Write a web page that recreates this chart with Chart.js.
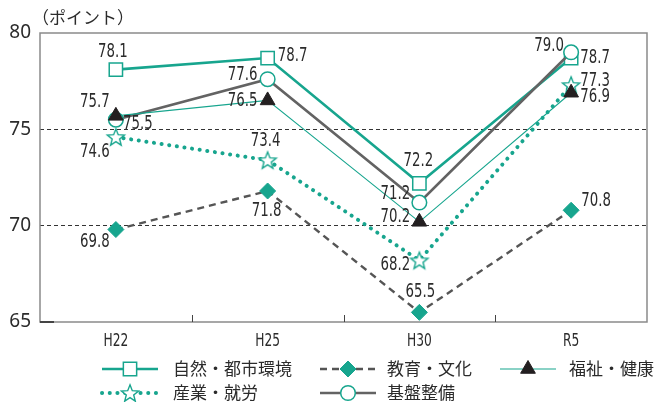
<!DOCTYPE html>
<html>
<head>
<meta charset="utf-8">
<script src="https://cdn.jsdelivr.net/npm/chart.js@4/dist/chart.umd.min.js"></script>
<style>
  body { margin: 0; background: #fff; }
  #wrap { width: 660px; height: 402px; position: relative; }
</style>
</head>
<body>
<div id="wrap"><canvas id="chart"></canvas></div>
<script>
// データ
const categories = ['H22', 'H25', 'H30', 'R5'];
const shizen = [78.1, 78.7, 72.2, 78.7];   // 自然・都市環境
const kyoiku = [69.8, 71.8, 65.5, 70.8];   // 教育・文化
const fukushi = [75.7, 76.5, 70.2, 76.9];  // 福祉・健康
const sangyo = [74.6, 73.4, 68.2, 77.3];   // 産業・就労
const kiban = [75.5, 77.6, 71.2, 79.0];    // 基盤整備
const yTicks = [65, 70, 75, 80];

const TEAL = '#17a58e';
const GRAY = '#636363';
const NUM_FONT = "'DejaVu Sans Condensed', 'Liberation Sans Narrow', 'Noto Sans', sans-serif";
const JP_FONT = "'Noto Sans CJK JP', 'Noto Sans', sans-serif";

// 星マーカー（白抜き）
function makeStar() {
    const c = document.createElement('canvas');
    c.width = 22; c.height = 22;
    const g = c.getContext('2d');
    g.beginPath();
    for (let i = 0; i < 10; i++) {
        const r = i % 2 === 0 ? 9 : 3.9;
        const a = -Math.PI / 2 + i * Math.PI / 5;
        const px = 11 + r * Math.cos(a), py = 11.8 + r * Math.sin(a);
        if (i === 0) g.moveTo(px, py); else g.lineTo(px, py);
    }
    g.closePath();
    g.fillStyle = '#fff';
    g.fill();
    g.lineWidth = 1.4;
    g.strokeStyle = TEAL;
    g.stroke();
    return c;
}
const star = makeStar();

// ラベル位置のずらし（点からのオフセット）
const labelOffsets = {
    shizen: [[-3, -18], [25, -2], [-1, -22], [24, 0]],
    kyoiku: [[-21, 13], [-1, 20], [1, -20], [25, -9]],
    fukushi: [[-21, -14], [-25, 1], [-24, -5], [24, 4]],
    sangyo: [[-21, 15], [-2, -19], [-24, 5], [24, -4]],
    kiban: [[22, 4], [-25, -4], [-24, -8], [-22, -6]]
};

const datasets = [
    {
        key: 'fukushi', label: '福祉・健康', data: fukushi,
        borderColor: TEAL, borderWidth: 1.1,
        pointStyle: 'triangle', pointRadius: 8.5, pointBackgroundColor: '#231f20',
        pointBorderColor: '#231f20', pointBorderWidth: 1, order: 1
    },
    {
        key: 'kiban', label: '基盤整備', data: kiban,
        borderColor: GRAY, borderWidth: 2.6,
        pointStyle: 'circle', pointRadius: 7.3, pointBackgroundColor: '#fff',
        pointBorderColor: TEAL, pointBorderWidth: 1.5, order: 2
    },
    {
        key: 'shizen', label: '自然・都市環境', data: shizen,
        borderColor: TEAL, borderWidth: 2.6,
        pointStyle: 'rect', pointRadius: 9.4, pointBackgroundColor: '#fff',
        pointBorderColor: TEAL, pointBorderWidth: 1.5, order: 3
    },
    {
        key: 'sangyo', label: '産業・就労', data: sangyo,
        borderColor: TEAL, borderWidth: 4, borderDash: [0.1, 7.6], borderCapStyle: 'round',
        pointStyle: star, pointRadius: 9, order: 4
    },
    {
        key: 'kyoiku', label: '教育・文化', data: kyoiku,
        borderColor: '#555555', borderWidth: 2.4, borderDash: [7, 5],
        pointStyle: 'rectRot', pointRadius: 8, pointBackgroundColor: TEAL,
        pointBorderColor: TEAL, pointBorderWidth: 1, order: 5
    }
];
datasets.forEach(d => { d.tension = 0; d.fill = false; d.pointHoverRadius = d.pointRadius; });

// 凡例の並び
const legendItems = [
    { key: 'shizen', x: 102, y: 369, tx: 173 },
    { key: 'kyoiku', x: 320, y: 369, tx: 387 },
    { key: 'fukushi', x: 500, y: 369, tx: 569 },
    { key: 'sangyo', x: 102, y: 393, tx: 173 },
    { key: 'kiban', x: 320, y: 393, tx: 387 }
];

// 細めの数字を描く（横方向に縮める）
function narrowText(ctx, text, x, y, size, sx) {
    ctx.save();
    ctx.translate(x, y);
    ctx.scale(sx, 1);
    ctx.font = size + 'px ' + NUM_FONT;
    ctx.fillText(text, 0, 0);
    ctx.restore();
}

const extras = {
    id: 'extras',
    beforeDatasetsDraw(chart) {
        const { ctx, chartArea: a, scales } = chart;
        ctx.save();
        // 枠
        ctx.strokeStyle = '#8a8a8a';
        ctx.lineWidth = 1.5;
        ctx.strokeRect(a.left, a.top, a.right - a.left, a.bottom - a.top);
        // x軸の目盛り（内側）
        ctx.strokeStyle = '#444';
        ctx.lineWidth = 1;
        for (let i = 1; i < categories.length; i++) {
            const x = Math.round(scales.x.getPixelForValue(i - 0.5)) + 0.5;
            ctx.beginPath();
            ctx.moveTo(x, a.bottom);
            ctx.lineTo(x, a.bottom - 7);
            ctx.stroke();
        }
        // 65の短い目盛り
        ctx.strokeStyle = '#444';
        ctx.lineWidth = 2;
        ctx.beginPath();
        ctx.moveTo(a.left, a.bottom);
        ctx.lineTo(a.left + 14, a.bottom);
        ctx.stroke();
        // x軸ラベル
        ctx.fillStyle = '#2b2b2b';
        ctx.textAlign = 'center';
        ctx.textBaseline = 'middle';
        categories.forEach((c, i) => {
            narrowText(ctx, c, scales.x.getPixelForValue(i), a.bottom + 20, 17, 0.8);
        });
        ctx.restore();
    },
    afterDatasetsDraw(chart) {
        const { ctx } = chart;
        ctx.save();
        ctx.fillStyle = '#2b2b2b';
        ctx.textAlign = 'center';
        ctx.textBaseline = 'middle';
        chart.data.datasets.forEach((ds, di) => {
            const meta = chart.getDatasetMeta(di);
            meta.data.forEach((pt, i) => {
                const off = labelOffsets[ds.key][i];
                narrowText(ctx, ds.data[i].toFixed(1), pt.x + off[0], pt.y + off[1], 19, 0.78);
            });
        });
        ctx.restore();
    },
    afterDraw(chart) {
        const { ctx } = chart;
        ctx.save();
        // 単位
        ctx.font = '17px ' + JP_FONT;
        ctx.fillStyle = '#2b2b2b';
        ctx.textBaseline = 'middle';
        ctx.fillText('（ポイント）', 32, 18);
        // 凡例
        legendItems.forEach(item => {
            const ds = chart.data.datasets.find(d => d.key === item.key);
            ctx.save();
            ctx.strokeStyle = ds.borderColor;
            ctx.lineWidth = ds.borderWidth;
            ctx.lineCap = ds.borderCapStyle || 'butt';
            ctx.setLineDash(ds.borderDash || []);
            ctx.beginPath();
            ctx.moveTo(item.x, item.y);
            ctx.lineTo(item.x + 56, item.y);
            ctx.stroke();
            ctx.restore();
            ctx.save();
            ctx.fillStyle = ds.pointBackgroundColor || '#fff';
            ctx.strokeStyle = ds.pointBorderColor || TEAL;
            ctx.lineWidth = ds.pointBorderWidth || 1;
            Chart.helpers.drawPoint(ctx, {
                pointStyle: ds.pointStyle, radius: ds.pointRadius, rotation: 0,
                borderWidth: ds.pointBorderWidth || 1
            }, item.x + 28, item.y);
            ctx.restore();
            ctx.font = '17px ' + JP_FONT;
            ctx.fillStyle = '#2b2b2b';
            ctx.textBaseline = 'middle';
            ctx.textAlign = 'left';
            ctx.fillText(ds.label, item.tx, item.y);
        });
        ctx.restore();
    }
};

new Chart(document.getElementById('chart'), {
    type: 'line',
    data: { labels: categories, datasets: datasets },
    options: {
        responsive: true,
        maintainAspectRatio: false,
        animation: false,
        layout: { padding: { top: 33, right: 9, left: 0, bottom: 0 } },
        plugins: {
            legend: { display: false },
            tooltip: { enabled: false }
        },
        scales: {
            x: {
                offset: true,
                grid: { display: false, drawTicks: false },
                border: { display: false },
                ticks: { display: false },
                afterFit: s => { s.height = 80; }
            },
            y: {
                min: 65,
                max: 80,
                afterBuildTicks: s => { s.ticks = yTicks.map(v => ({ value: v })); },
                grid: {
                    drawTicks: false,
                    color: c => (c.tick && (c.tick.value === 70 || c.tick.value === 75)) ? '#333' : 'rgba(0,0,0,0)',
                    lineWidth: 1
                },
                border: { display: false, dash: [4, 3] },
                ticks: { padding: 9, color: '#2b2b2b', font: { size: 19, family: "'Noto Sans', sans-serif" } },
                afterFit: s => { s.width = 40; }
            }
        }
    },
    plugins: [extras]
});
</script>
</body>
</html>
